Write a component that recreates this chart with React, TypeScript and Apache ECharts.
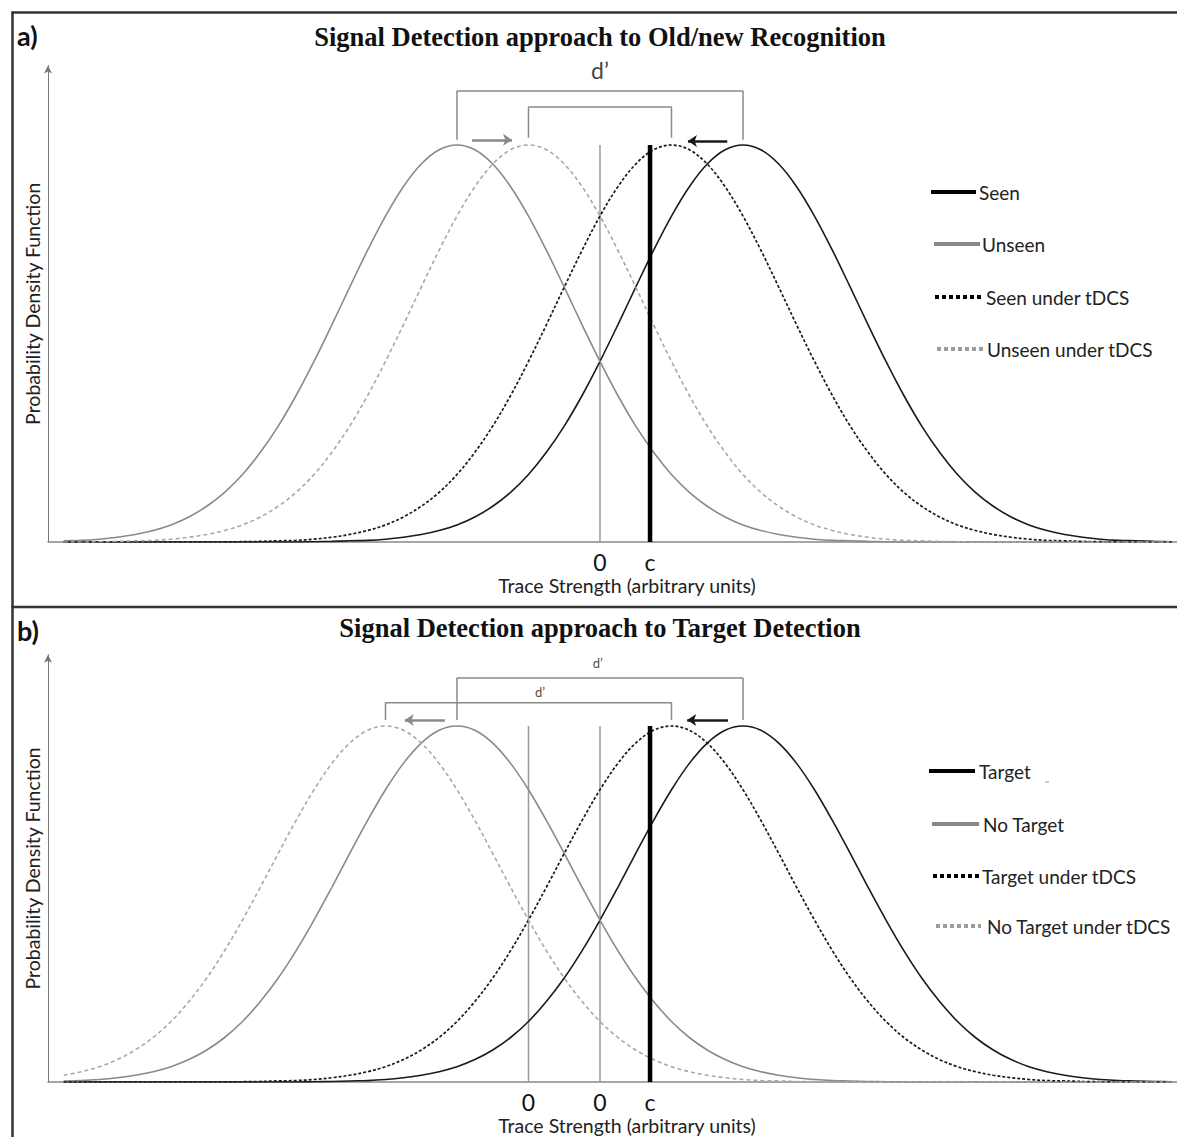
import React, { useEffect, useRef } from "react";
import * as echarts from "echarts";

// ---------- data ----------
// axis range (arbitrary units of trace strength)
const X_MIN = -7.72;
const X_MAX = 8.07;
const Y_MAX = 1.2;

// shared density shape: relative height at 0, 0.25, 0.5 ... 6 units from a curve's peak
const OFFSET_STEP = 0.25;
const DENSITY_SHAPE = [
  1.0, 0.988, 0.952, 0.895, 0.821, 0.735, 0.642, 0.547, 0.455, 0.369, 0.292, 0.226, 0.17,
  0.125, 0.09, 0.063, 0.043, 0.029, 0.019, 0.012, 0.007, 0.004, 0.003, 0.0015, 0.0008,
];
const CURVE_START = -7.5;
const CURVE_END = 8;

const SERIES_A_NAMES = ["Seen", "Unseen", "Seen under tDCS", "Unseen under tDCS"];
const SERIES_A_PEAKS = [2, -2, 1, -1];
const SERIES_B_NAMES = ["Target", "No Target", "Target under tDCS", "No Target under tDCS"];
const SERIES_B_PEAKS = [2, -2, 1, -3];

const TICKS_A_VALUES = [0, 0.7];
const TICKS_A_LABELS = ["0", "c"];
const TICKS_B_VALUES = [-1, 0, 0.7];
const TICKS_B_LABELS = ["0", "0", "c"];

const CRITERION = 0.7;
const ZERO_LINES_A = [0];
const ZERO_LINES_B = [-1, 0];

// brackets: [x left, x right, y bottom, y top]
const BRACKETS_A = [
  [-2, 2, 1.013, 1.136],
  [-1, 1, 1.018, 1.096],
];
const BRACKETS_B = [
  [-2, 2, 1.017, 1.135],
  [-3, 1, 1.017, 1.065],
];
// arrows: [x from, x to, y]
const ARROWS_A = [
  [-1.79, -1.23, 1.013],
  [1.78, 1.23, 1.01],
];
const ARROWS_B = [
  [-2.17, -2.73, 1.017],
  [1.79, 1.22, 1.017],
];
// d' labels: [x, y]
const DPRIME_A = [[0, 1.19]];
const DPRIME_B = [
  [-0.03, 1.177],
  [-0.84, 1.096],
];

// ---------- styles ----------
const SANS = "Lato";
const BLACK = "#1a1a1a";
const GRAY = "#8a8a8a";
const LIGHT = "#a8a8a8";
const CURVE_STYLES = [
  { color: BLACK, type: "solid" as any, width: 1.6 },
  { color: GRAY, type: "solid" as any, width: 1.6 },
  { color: BLACK, type: [3, 2] as any, width: 1.7 },
  { color: LIGHT, type: [4, 3] as any, width: 1.6 },
];

function curvePoints(peak: number) {
  const pts: number[][] = [];
  const n = Math.round((CURVE_END - CURVE_START) / OFFSET_STEP);
  for (let i = 0; i <= n; i++) {
    const x = CURVE_START + i * OFFSET_STEP;
    const k = Math.round(Math.abs(x - peak) / OFFSET_STEP);
    pts.push([x, k < DENSITY_SHAPE.length ? DENSITY_SHAPE[k] : 0]);
  }
  return pts;
}

function panelSeries(
  idx: number,
  names: string[],
  peaks: number[],
  zeros: number[],
  brackets: number[][],
  arrows: number[][],
  dprimes: number[][],
  dFont: number
) {
  const out: any[] = [];
  names.forEach((name, i) => {
    out.push({
      type: "line",
      name,
      xAxisIndex: idx,
      yAxisIndex: idx,
      data: curvePoints(peaks[i]),
      showSymbol: false,
      smooth: 0.35,
      lineStyle: CURVE_STYLES[i],
      silent: true,
      z: 3,
    });
  });
  zeros.forEach((z) => {
    out.push({
      type: "line",
      xAxisIndex: idx,
      yAxisIndex: idx,
      data: [
        [z, 0],
        [z, 1],
      ],
      showSymbol: false,
      lineStyle: { color: "#9a9a9a", width: 1.5 },
      silent: true,
      z: 2,
    });
  });
  out.push({
    type: "line",
    xAxisIndex: idx,
    yAxisIndex: idx,
    data: [
      [CRITERION, 0],
      [CRITERION, 1],
    ],
    showSymbol: false,
    lineStyle: { color: "#000", width: 4.5 },
    silent: true,
    z: 4,
  });
  brackets.forEach((b, bi) => {
    out.push({
      type: "line",
      xAxisIndex: idx,
      yAxisIndex: idx,
      data: [
        [b[0], b[2]],
        [b[0], b[3]],
        [b[1], b[3]],
        [b[1], b[2]],
      ],
      showSymbol: false,
      lineStyle: { color: GRAY, width: 1.5 },
      silent: true,
      z: 2,
      markLine:
        bi === 0
          ? {
              silent: true,
              symbol: ["none", "arrow"],
              symbolSize: 9,
              label: { show: false },
              animation: false,
              data: arrows.map((a, ai) => [
                {
                  coord: [a[0], a[2]],
                  lineStyle: { color: ai === 0 ? GRAY : BLACK, width: 2.5, type: "solid" },
                },
                { coord: [a[1], a[2]] },
              ]),
            }
          : undefined,
    });
  });
  out.push({
    type: "scatter",
    xAxisIndex: idx,
    yAxisIndex: idx,
    data: dprimes,
    symbolSize: 1,
    itemStyle: { color: "rgba(0,0,0,0)" },
    silent: true,
    label: {
      show: true,
      position: "inside",
      formatter: "d’",
      fontFamily: SANS,
      fontSize: dFont,
      color: "#111",
    },
  });
  return out;
}

function xAxis(idx: number, values: number[], labels: string[]) {
  return {
    type: "value",
    gridIndex: idx,
    min: X_MIN,
    max: X_MAX,
    axisLine: { show: true, onZero: false, lineStyle: { color: "#888", width: 1.5 } },
    axisTick: { show: false },
    splitLine: { show: false },
    axisLabel: {
      show: true,
      customValues: values,
      margin: 9,
      fontFamily: SANS,
      fontSize: 23,
      lineHeight: 21,
      color: "#111",
      formatter: (v: number) => {
        const i = values.findIndex((t) => Math.abs(t - v) < 1e-6);
        return i >= 0 ? String(labels[i]) : "";
      },
    },
    name: "Trace Strength (arbitrary units)",
    nameLocation: "middle",
    nameGap: 34,
    nameTextStyle: {
      fontFamily: SANS,
      fontSize: 19.5,
      lineHeight: 19,
      color: "#222",
      padding: [0, 0, 0, 29],
    },
  };
}

function yAxis(idx: number) {
  return {
    type: "value",
    gridIndex: idx,
    min: 0,
    max: Y_MAX,
    axisLine: {
      show: true,
      onZero: false,
      symbol: ["none", "arrow"],
      symbolSize: [6, 8],
      lineStyle: { color: "#777", width: 1 },
    },
    axisTick: { show: false },
    axisLabel: { show: false },
    splitLine: { show: false },
    name: "Probability Density Function",
    nameLocation: "middle",
    nameGap: 6,
    nameTextStyle: { fontFamily: SANS, fontSize: 19.5, color: "#222" },
  };
}

function legendItems(names: string[], lines: number[][], textX: number[]) {
  const styles = [
    { stroke: "#000", lineWidth: 4 },
    { stroke: "#888", lineWidth: 4 },
    { stroke: "#000", lineWidth: 4, lineDash: [4, 3] },
    { stroke: "#9c9c9c", lineWidth: 4, lineDash: [4, 3] },
  ];
  const els: any[] = [];
  names.forEach((n, i) => {
    const [x1, x2, y] = lines[i];
    els.push({ type: "line", shape: { x1, y1: y, x2, y2: y }, style: styles[i], silent: true });
    els.push({
      type: "text",
      x: textX[i],
      y,
      style: {
        text: n,
        font: `19px ${SANS}`,
        fill: "#222",
        textAlign: "left",
        textVerticalAlign: "middle",
      },
      silent: true,
    });
  });
  return els;
}

export default function App() {
  const ref = useRef<HTMLDivElement>(null);
  useEffect(() => {
    const chart = echarts.init(ref.current!, null, { renderer: "svg" });
    const option: any = {
      animation: false,
      backgroundColor: "#fff",
      grid: [
        { left: 48, top: 65.6, width: 1129, height: 476.4 },
        { left: 48, top: 654.8, width: 1129, height: 427.2 },
      ],
      xAxis: [xAxis(0, TICKS_A_VALUES, TICKS_A_LABELS), xAxis(1, TICKS_B_VALUES, TICKS_B_LABELS)],
      yAxis: [yAxis(0), yAxis(1)],
      series: [
        ...panelSeries(0, SERIES_A_NAMES, SERIES_A_PEAKS, ZERO_LINES_A, BRACKETS_A, ARROWS_A, DPRIME_A, 23),
        ...panelSeries(1, SERIES_B_NAMES, SERIES_B_PEAKS, ZERO_LINES_B, BRACKETS_B, ARROWS_B, DPRIME_B, 13),
      ],
      graphic: [
        // frame
        { type: "line", shape: { x1: 12.5, y1: 11.5, x2: 12.5, y2: 1137 }, style: { stroke: "#333", lineWidth: 2.5 }, silent: true },
        { type: "line", shape: { x1: 11.5, y1: 12.5, x2: 1177, y2: 12.5 }, style: { stroke: "#333", lineWidth: 2.5 }, silent: true },
        { type: "line", shape: { x1: 11.5, y1: 607, x2: 1177, y2: 607 }, style: { stroke: "#333", lineWidth: 2.5 }, silent: true },
        // panel letters
        { type: "text", x: 17, y: 35, style: { text: "a)", font: `bold 27px ${SANS}`, fill: "#111", textVerticalAlign: "middle" }, silent: true },
        { type: "text", x: 17, y: 630, style: { text: "b)", font: `bold 27px ${SANS}`, fill: "#111", textVerticalAlign: "middle" }, silent: true },
        // titles
        {
          type: "text",
          x: 600,
          y: 37,
          style: {
            text: "Signal Detection approach to Old/new Recognition",
            font: 'bold 26.5px "Liberation Serif"',
            fill: "#111",
            textAlign: "center",
            textVerticalAlign: "middle",
          },
          silent: true,
        },
        {
          type: "text",
          x: 600,
          y: 628,
          style: {
            text: "Signal Detection approach to Target Detection",
            font: 'bold 26.5px "Liberation Serif"',
            fill: "#111",
            textAlign: "center",
            textVerticalAlign: "middle",
          },
          silent: true,
        },
        ...legendItems(
          SERIES_A_NAMES,
          [
            [931, 976, 192],
            [934, 980, 244],
            [935, 983, 297],
            [937, 983, 349],
          ],
          [979, 982, 986, 987]
        ),
        ...legendItems(
          SERIES_B_NAMES,
          [
            [929, 975, 771],
            [932, 979, 824],
            [933, 981, 876],
            [936, 981, 926],
          ],
          [979, 983, 982, 987]
        ),
        { type: "line", shape: { x1: 1045, y1: 782, x2: 1049, y2: 782 }, style: { stroke: "#999", lineWidth: 1 }, silent: true },
      ],
    };
    chart.setOption(option);
    return () => chart.dispose();
  }, []);
  return (
    <div
      ref={ref}
      style={{ position: "fixed", left: 0, top: 0, width: 1177, height: 1137, background: "#fff" }}
    />
  );
}
